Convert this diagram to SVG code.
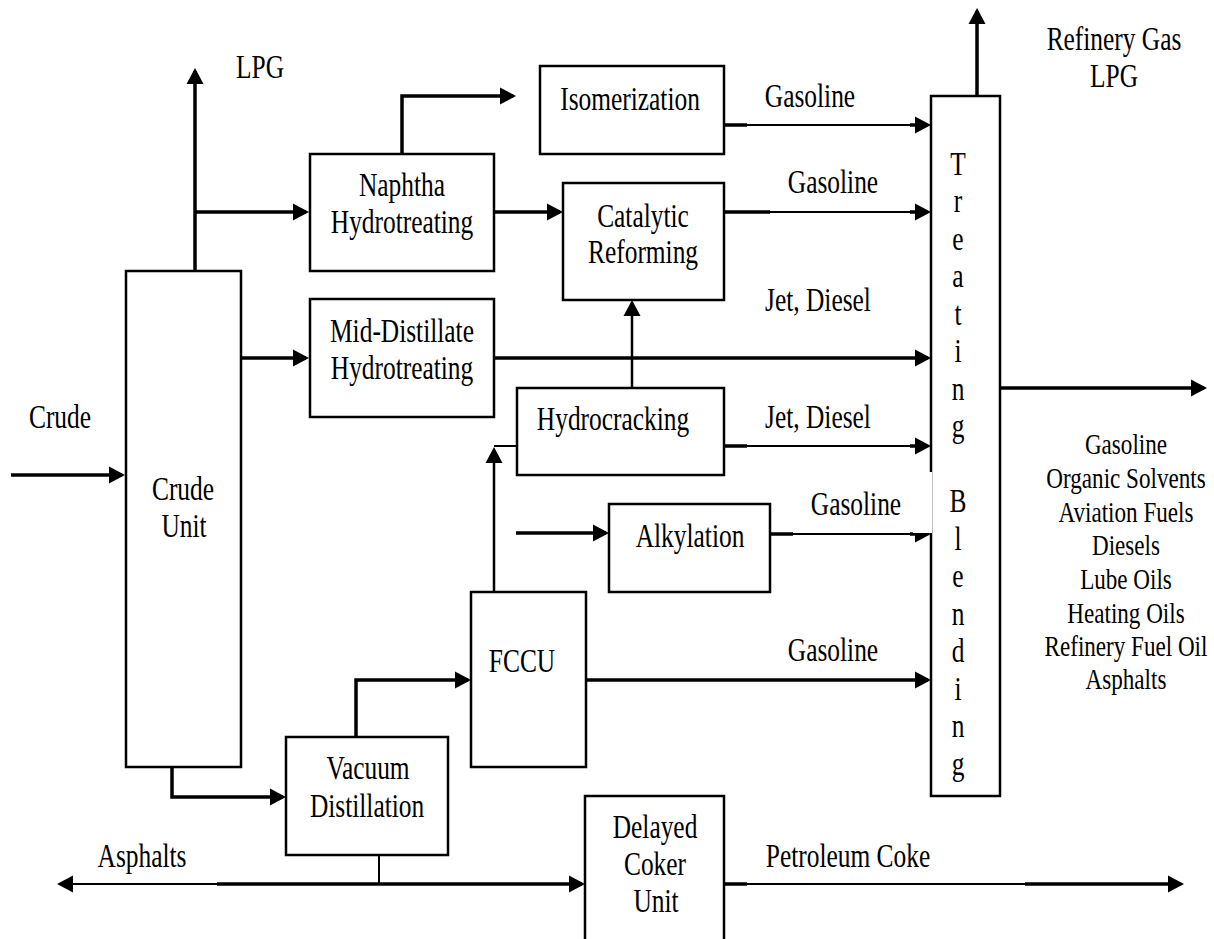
<svg xmlns="http://www.w3.org/2000/svg" width="1214" height="939" viewBox="0 0 1214 939">
<defs>
<style>
.box{fill:none;stroke:#000;stroke-width:2.5}
.k{fill:none;stroke:#000;stroke-width:3.5}
.m{fill:none;stroke:#000;stroke-width:2.5}
.n{fill:none;stroke:#000;stroke-width:2}
.a{marker-end:url(#ah)}
.t{font-family:"Liberation Serif","Times New Roman",serif;font-size:33px;text-anchor:middle;fill:#000;transform-box:fill-box;transform-origin:center;transform:scaleX(0.77)}
.p{font-size:30px}
</style>
<marker id="ah" markerUnits="userSpaceOnUse" markerWidth="18" markerHeight="20" viewBox="0 -10 18 20" refX="13" refY="0" orient="auto">
<path d="M0,-8.5 L16,0 L0,8.5 Z" fill="#000"/>
</marker>
</defs>
<rect width="1214" height="939" fill="#fff"/>

<g id="connectors">
<path class="k a" d="M11,475 H122"/>
<path class="k a" d="M195,271 V71"/>
<path class="k a" d="M195,212 H306"/>
<path class="k a" d="M402,154 V96 H513"/>
<path class="n a" d="M724,125 H928"/>
<path class="k" d="M724,125 H747 M910,125 H920"/>
<path class="k a" d="M494,212 H560"/>
<path class="n a" d="M724,212 H928"/>
<path class="k" d="M724,212 H770 M910,212 H920"/>
<path class="k a" d="M241,358 H306"/>
<path class="k a" d="M494,358 H928"/>
<path class="m a" d="M632,388 V303"/>
<path class="n a" d="M724,446 H928"/>
<path class="k" d="M724,446 H747 M910,446 H920"/>
<path class="m a" d="M494,592 V450"/>
<path class="n" d="M494,446 H517"/>
<path class="k a" d="M516,533 H606"/>
<path class="n a" d="M770,534 H928"/>
<path class="k" d="M770,534 H793 M910,534 H920"/>
<path class="k a" d="M586,680 H928"/>
<path class="n" d="M769,680 H909"/>
<path class="k a" d="M356,737 V680 H468"/>
<path class="k a" d="M172,767 V797 H283"/>
<path class="n" d="M379,855 V884"/>
<path class="n a" d="M217,884 H60"/>
<path class="k a" d="M217,884 H582"/>
<path class="n a" d="M724,884 H1181"/>
<path class="k" d="M724,884 H747 M1025,884 H1175"/>
<path class="k a" d="M977,96 V11"/>
<path class="k a" d="M1000,388 H1204"/>
</g>

<g id="crude-unit">
<rect class="box" x="126" y="271" width="115" height="496"/>
<text class="t" x="183" y="500">Crude</text>
<text class="t" x="184" y="537">Unit</text>
</g>
<g id="naphtha-hydrotreating">
<rect class="box" x="310" y="154" width="184" height="117"/>
<text class="t" x="402" y="196">Naphtha</text>
<text class="t" x="402" y="233">Hydrotreating</text>
</g>
<g id="isomerization">
<rect class="box" x="540" y="66" width="184" height="88"/>
<text class="t" x="630" y="110">Isomerization</text>
</g>
<g id="catalytic-reforming">
<rect class="box" x="563" y="183" width="161" height="117"/>
<text class="t" x="643" y="227">Catalytic</text>
<text class="t" x="643" y="263">Reforming</text>
</g>
<g id="mid-distillate-hydrotreating">
<rect class="box" x="310" y="299" width="184" height="118"/>
<text class="t" x="402" y="342">Mid-Distillate</text>
<text class="t" x="402" y="379">Hydrotreating</text>
</g>
<g id="hydrocracking">
<rect class="box" x="517" y="388" width="207" height="87"/>
<text class="t" x="613" y="430">Hydrocracking</text>
</g>
<g id="alkylation">
<rect class="box" x="609" y="504" width="161" height="88"/>
<text class="t" x="690" y="547">Alkylation</text>
</g>
<g id="fccu">
<rect class="box" x="471" y="592" width="115" height="175"/>
<text class="t" x="522" y="672">FCCU</text>
</g>
<g id="vacuum-distillation">
<rect class="box" x="286" y="737" width="162" height="118"/>
<text class="t" x="368" y="779">Vacuum</text>
<text class="t" x="367" y="817">Distillation</text>
</g>
<g id="delayed-coker-unit">
<rect class="box" x="585" y="796" width="139" height="160"/>
<text class="t" x="655" y="838">Delayed</text>
<text class="t" x="655" y="875">Coker</text>
<text class="t" x="656" y="912">Unit</text>
</g>
<g id="treating-blending">
<rect class="box" x="931" y="96" width="69" height="700"/>
<rect x="913" y="472" width="19" height="61" fill="#fff"/>
<text class="t" x="958" y="175">T</text>
<text class="t" x="958" y="212.5">r</text>
<text class="t" x="958" y="250">e</text>
<text class="t" x="958" y="287.5">a</text>
<text class="t" x="958" y="325">t</text>
<text class="t" x="958" y="362.5">i</text>
<text class="t" x="958" y="400">n</text>
<text class="t" x="958" y="437.5">g</text>
<text class="t" x="958" y="512.5">B</text>
<text class="t" x="958" y="550">l</text>
<text class="t" x="958" y="587.5">e</text>
<text class="t" x="958" y="625">n</text>
<text class="t" x="958" y="662.5">d</text>
<text class="t" x="958" y="700">i</text>
<text class="t" x="958" y="737.5">n</text>
<text class="t" x="958" y="775">g</text>
</g>

<g id="labels">
<text class="t" x="60" y="428">Crude</text>
<text class="t" x="260" y="78">LPG</text>
<text class="t" x="810" y="107">Gasoline</text>
<text class="t" x="833" y="193">Gasoline</text>
<text class="t" x="818" y="311">Jet, Diesel</text>
<text class="t" x="818" y="428">Jet, Diesel</text>
<text class="t" x="856" y="515">Gasoline</text>
<text class="t" x="833" y="661">Gasoline</text>
<text class="t" x="142" y="867">Asphalts</text>
<text class="t" x="848" y="867">Petroleum Coke</text>
<text class="t" x="1114" y="50">Refinery Gas</text>
<text class="t" x="1114" y="87">LPG</text>
<text class="t p" x="1126" y="454">Gasoline</text>
<text class="t p" x="1126" y="488">Organic Solvents</text>
<text class="t p" x="1126" y="522">Aviation Fuels</text>
<text class="t p" x="1126" y="555">Diesels</text>
<text class="t p" x="1126" y="589">Lube Oils</text>
<text class="t p" x="1126" y="623">Heating Oils</text>
<text class="t p" x="1126" y="656">Refinery Fuel Oil</text>
<text class="t p" x="1126" y="689">Asphalts</text>
</g>
</svg>
